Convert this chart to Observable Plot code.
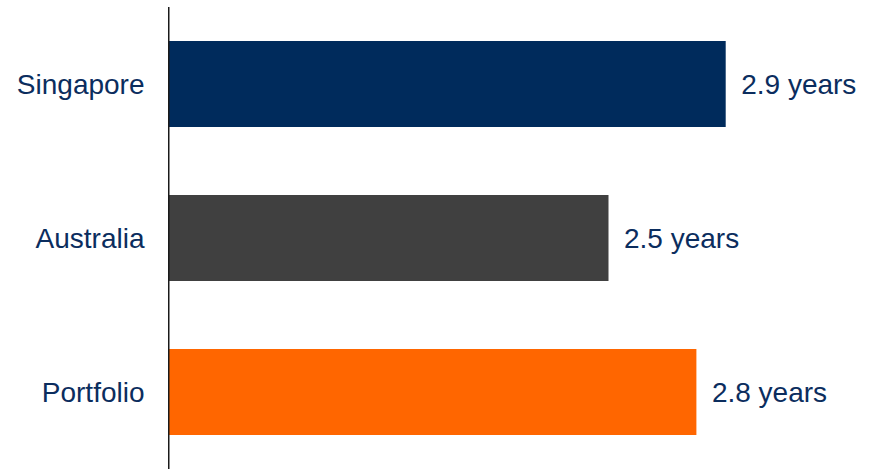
<!DOCTYPE html>
<html>
<head>
<meta charset="utf-8">
<script src="https://cdn.jsdelivr.net/npm/d3@7"></script>
<script src="https://cdn.jsdelivr.net/npm/@observablehq/plot@0.6"></script>
<style>
  html, body { margin: 0; padding: 0; background: #fff; }
  #chart svg { display: block; overflow: visible; }
</style>
</head>
<body>
<div id="chart"></div>
<script>
const categories = ["Singapore", "Australia", "Portfolio"];
const values = [2.9, 2.5, 2.8];
const labels = ["2.9 years", "2.5 years", "2.8 years"];
const colors = ["#002B5C", "#404040", "#FF6600"];

const data = categories.map((c, i) => ({ category: c, value: values[i], label: labels[i], color: colors[i] }));

const textColor = "#0B2D5E";
const font = "'Liberation Sans', Arial, sans-serif";

const chart = Plot.plot({
  width: 876,
  height: 469,
  marginLeft: 169,
  marginRight: 121,
  marginTop: 7,
  marginBottom: 0,
  style: { fontFamily: font, fontSize: "28px", color: textColor, background: "#fff", overflow: "visible" },
  x: { domain: [1, 3], axis: null },
  y: { domain: categories, paddingInner: 0.44, paddingOuter: 0.22, label: null },
  marks: [
    Plot.barX(data, { y: "category", x1: 1, x2: "value", fill: "color" }),
    Plot.text(data, { y: "category", x: "value", text: "label", dx: 15, dy: 1, textAnchor: "start", fill: textColor, fontSize: 28 }),
    Plot.axisY({ tickSize: 0, tickPadding: 25, dy: 1, fontSize: 28, fill: textColor, label: null }),
    Plot.ruleX([1], { stroke: "#1a1a1a", strokeWidth: 1.5, dx: -0.75 })
  ]
});
document.getElementById("chart").appendChild(chart);
</script>
</body>
</html>
